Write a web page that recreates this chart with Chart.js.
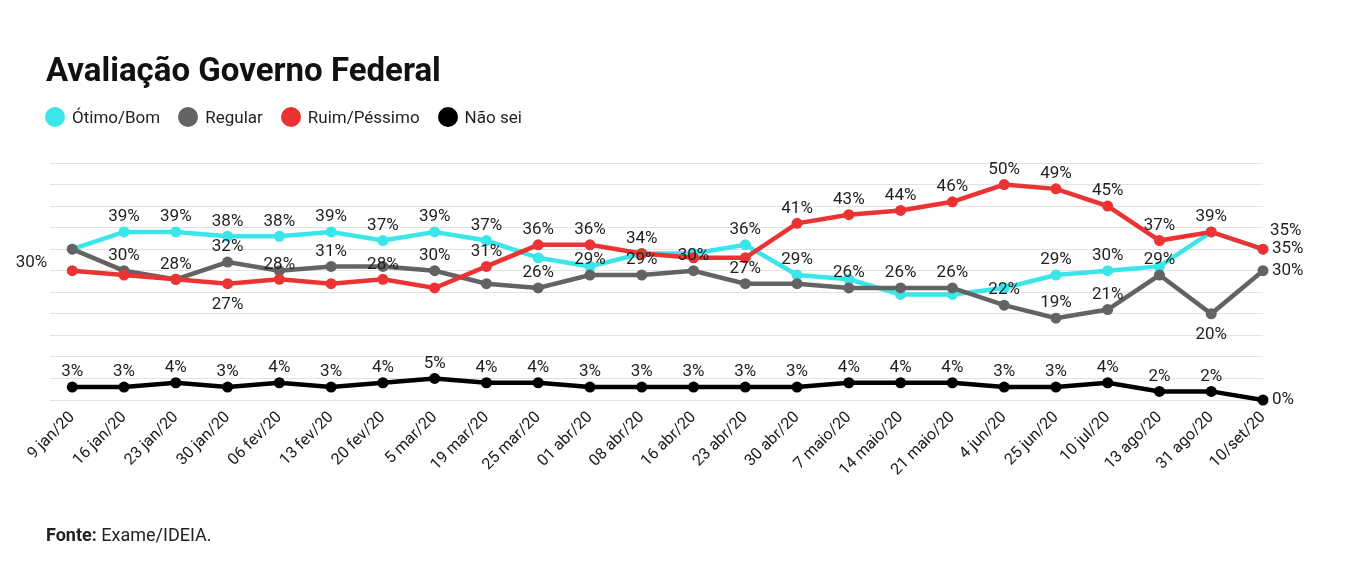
<!DOCTYPE html>
<html lang="pt-BR">
<head>
<meta charset="utf-8">
<title>Avaliação Governo Federal</title>
<script src="https://cdn.jsdelivr.net/npm/chart.js@4.4.0/dist/chart.umd.min.js"></script>
<style>
  html, body { margin: 0; padding: 0; background: #fff; }
  body { width: 1348px; height: 587px; position: relative; overflow: hidden; font-family: Roboto, 'Noto Sans', sans-serif; color: #1f1f1f; }
  #wrap { position: absolute; left: 0; top: 0; width: 1348px; height: 587px; }
  #title { position: absolute; left: 46px; top: 53px; font-size: 33px; font-weight: 700; line-height: 1; color: #111; }
  #legend { position: absolute; left: 45px; top: 107px; display: flex; align-items: center; gap: 18px; font-size: 17px; line-height: 20px; }
  #legend .item { display: flex; align-items: center; gap: 7px; }
  #legend .dot { width: 20px; height: 20px; border-radius: 50%; }
  #footer { position: absolute; left: 46px; top: 524px; font-size: 18px; line-height: 22px; color: #222; }
</style>
</head>
<body>
<div id="wrap"><canvas id="evalChart"></canvas></div>
<div id="title">Avaliação Governo Federal</div>
<div id="legend"></div>
<div id="footer"><b>Fonte:</b> Exame/IDEIA.</div>
<script>
// Survey dates (x axis)
const dates = [
  '9 jan/20', '16 jan/20', '23 jan/20', '30 jan/20', '06 fev/20', '13 fev/20',
  '20 fev/20', '5 mar/20', '19 mar/20', '25 mar/20', '01 abr/20', '08 abr/20',
  '16 abr/20', '23 abr/20', '30 abr/20', '7 maio/20', '14 maio/20', '21 maio/20',
  '4 jun/20', '25 jun/20', '10 jul/20', '13 ago/20', '31 ago/20', '10/set/20',
]

// Values in %
const otimoBom = [35, 39, 39, 38, 38, 39, 37, 39, 37, 33, 31, 34, 34, 36, 29, 28, 24.5, 24.5, 26, 29, 30, 31, 39, 35]
const regular = [35, 30, 28, 32, 30, 31, 31, 30, 27, 26, 29, 29, 30, 27, 27, 26, 26, 26, 22, 19, 21, 29, 20, 30]
const ruimPessimo = [30, 29, 28, 27, 28, 27, 28, 26, 31, 36, 36, 34, 33, 33, 41, 43, 44, 46, 50, 49, 45, 37, 39, 35]
const naoSei = [3, 3, 4, 3, 4, 3, 4, 5, 4, 4, 3, 3, 3, 3, 3, 4, 4, 4, 3, 3, 4, 2, 2, 0]

// y grid: 0..55 every 5
const yMin = 0
const yMax = 55
const yStep = 5

// where each value label sits ('' = no label) t=top b=bottom l=left r=right tr=top-right
const otimoBomLabels = ['', 't', 't', 't', 't', 't', 't', 't', 't', '', '', '', '', 't', 't', '', '', '', '', 't', 't', '', '', 'tr']
const regularLabels = ['', 't', 't', 't', '', 't', '', 't', '', 't', 't', 't', 't', 't', '', 't', 't', 't', 't', 't', 't', 't', 'b', 'r']
const ruimPessimoLabels = ['l', '', '', 'b', 't', '', 't', '', 't', 't', 't', 't', '', '', 't', 't', 't', 't', 't', 't', 't', 't', 't', 'r']
const naoSeiLabels = dates.map((d, i) => (i === dates.length - 1 ? 'r' : 't'))

const series = [
  { label: 'Ótimo/Bom', values: otimoBom, where: otimoBomLabels, color: '#3ae6ea', order: 4 },
  { label: 'Regular', values: regular, where: regularLabels, color: '#636363', order: 3 },
  { label: 'Ruim/Péssimo', values: ruimPessimo, where: ruimPessimoLabels, color: '#ec3333', order: 2 },
  { label: 'Não sei', values: naoSei, where: naoSeiLabels, color: '#000000', order: 1 },
]

// HTML legend
const legendDiv = document.getElementById('legend')
series.forEach((s) => {
  const item = document.createElement('div')
  item.className = 'item'
  item.innerHTML = '<span class="dot" style="background:' + s.color + '"></span><span>' + s.label + '</span>'
  legendDiv.appendChild(item)
})

// draws the "NN%" labels next to the points
const valueLabels = {
  id: 'valueLabels',
  afterDatasetsDraw(chart) {
    const ctx = chart.ctx
    const offsets = {
      t: { dx: 0, dy: -15, align: 'center' },
      b: { dx: 0, dy: 21, align: 'center' },
      l: { dx: -25, dy: -8, align: 'right' },
      r: { dx: 9, dy: 0, align: 'left' },
      tr: { dx: 7, dy: -18, align: 'left' },
    }
    ctx.save()
    ctx.font = '17px Roboto'
    ctx.fillStyle = '#1f1f1f'
    ctx.textBaseline = 'middle'
    chart.data.datasets.forEach((ds, i) => {
      const meta = chart.getDatasetMeta(i)
      meta.data.forEach((pt, j) => {
        const o = offsets[ds.labelWhere[j]]
        if (!o) return
        ctx.textAlign = o.align
        ctx.fillText(Math.round(ds.data[j].y) + '%', pt.x + o.dx, pt.y + o.dy)
      })
    })
    ctx.restore()
  },
}

const ctx = document.getElementById('evalChart').getContext('2d')
new Chart(ctx, {
  type: 'line',
  data: {
    datasets: series.map((s) => ({
      label: s.label,
      data: s.values.map((v, i) => ({ x: i, y: v })),
      labelWhere: s.where,
      order: s.order,
      borderColor: s.color,
      backgroundColor: s.color,
      pointBackgroundColor: s.color,
      pointBorderColor: s.color,
      borderWidth: 4.5,
      pointRadius: 5.5,
      pointBorderWidth: 0,
      tension: 0,
      clip: false,
    })),
  },
  options: {
    responsive: true,
    maintainAspectRatio: false,
    animation: false,
    layout: {
      padding: { left: 50, right: 85, top: 163, bottom: 0 },
    },
    plugins: {
      legend: { display: false },
      title: { display: false },
      tooltip: { enabled: false },
    },
    scales: {
      x: {
        type: 'linear',
        min: -0.43,
        max: dates.length - 1,
        grid: { display: false, drawTicks: false },
        border: { display: false },
        afterBuildTicks: (axis) => {
          axis.ticks = dates.map((d, i) => ({ value: i }))
        },
        afterFit: (axis) => {
          axis.height = 187
        },
        ticks: {
          autoSkip: false,
          maxRotation: 45,
          minRotation: 45,
          padding: 8,
          color: '#1a1a1a',
          font: { family: 'Roboto', size: 16 },
          callback: (v) => dates[v],
        },
      },
      y: {
        min: yMin,
        max: yMax,
        grid: { color: '#e2e2e2', lineWidth: 1, drawTicks: false },
        border: { display: false },
        afterFit: (axis) => {
          axis.width = 0
        },
        ticks: { display: false, stepSize: yStep },
      },
    },
  },
  plugins: [valueLabels],
})
</script>
</body>
</html>
